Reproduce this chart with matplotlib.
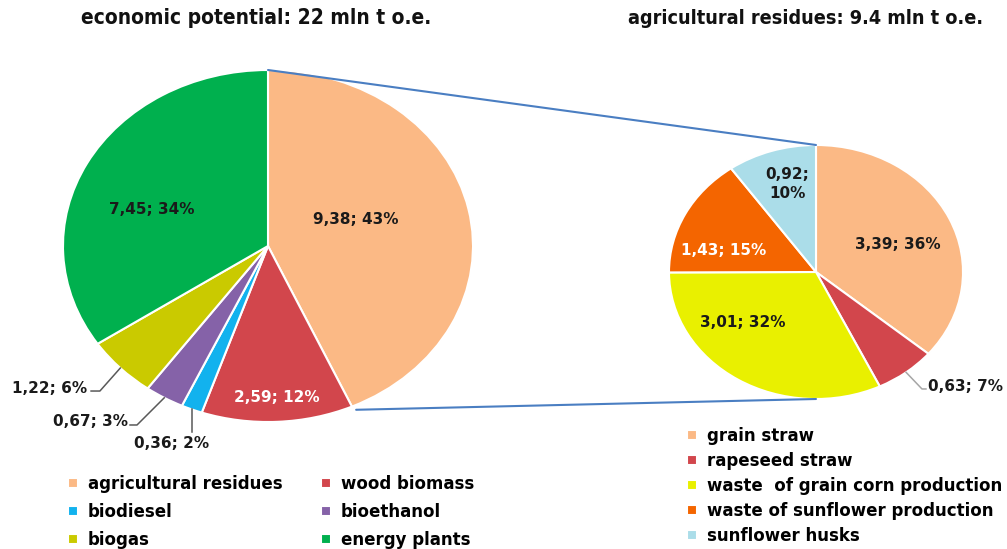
import numpy as np
import matplotlib
matplotlib.use("Agg")
import matplotlib.pyplot as plt
from matplotlib.patches import ConnectionPatch

# economic potential, mln t o.e.
main_names = ['agricultural residues', 'wood biomass', 'biodiesel', 'bioethanol', 'biogas', 'energy plants']
main_values = [9.38, 2.59, 0.36, 0.67, 1.22, 7.45]
main_pcts = [43, 12, 2, 3, 6, 34]
main_colors = ['#FBB985', '#D2464C', '#12B2EE', '#8562A8', '#CACA00', '#00B04E']

# agricultural residues, mln t o.e.
agro_names = ['grain straw', 'rapeseed straw', 'waste  of grain corn production',
              'waste of sunflower production', 'sunflower husks']
agro_values = [3.39, 0.63, 3.01, 1.43, 0.92]
agro_pcts = [36, 7, 32, 15, 10]
agro_colors = ['#FBB985', '#D2464C', '#E9F000', '#F46500', '#ABDDE9']

W, H = 1007, 549
fig = plt.figure(figsize=(W / 100, H / 100), dpi=100)


def pie_axes(cx, cy, rx, ry):
    return fig.add_axes([(cx - rx) / W, (H - cy - ry) / H, 2 * rx / W, 2 * ry / H])


def fmt(v, p):
    return ('%.2f' % v).replace('.', ',') + '; %d%%' % p


def mid_point(values, i):
    tot = sum(values)
    c = sum(values[:i]) + values[i] / 2
    a = np.deg2rad(90 - 360 * c / tot)
    return np.cos(a), np.sin(a)


def draw_pie(ax, values, colors):
    w, _ = ax.pie(values, colors=colors, startangle=90, counterclock=False, radius=1,
                  wedgeprops=dict(edgecolor='white', linewidth=1.5))
    ax.set_aspect('auto')
    ax.set_xlim(-1, 1)
    ax.set_ylim(-1, 1)
    ax.axis('off')
    return w


ax1 = pie_axes(268, 246, 205, 176)
w1 = draw_pie(ax1, main_values, main_colors)
ax2 = pie_axes(816, 272, 147, 127)
w2 = draw_pie(ax2, agro_values, agro_colors)

lab = dict(fontsize=11, fontweight='bold', clip_on=False)

# labels inside the big slices
ax1.text(0.43, 0.148, fmt(main_values[0], main_pcts[0]), ha='center', va='center', color='#1a1a1a', **lab)
ax1.text(0.044, -0.858, fmt(main_values[1], main_pcts[1]), ha='center', va='center', color='white', **lab)
ax1.text(-0.566, 0.205, fmt(main_values[5], main_pcts[5]), ha='center', va='center', color='#1a1a1a', **lab)

# small slices with leader lines
lead = dict(color='#595959', lw=1.1, clip_on=False)
x, y = mid_point(main_values, 4)
ax1.plot([x, -0.82, -0.863], [y, -0.824, -0.824], **lead)
ax1.text(-0.88, -0.81, fmt(main_values[4], main_pcts[4]), ha='right', va='center', color='#1a1a1a', **lab)
x, y = mid_point(main_values, 3)
ax1.plot([x, -0.639, -0.673], [y, -1.017, -1.017], **lead)
ax1.text(-0.685, -1.0, fmt(main_values[3], main_pcts[3]), ha='right', va='center', color='#1a1a1a', **lab)
x, y = mid_point(main_values, 2)
ax1.plot([x, x], [y, -1.057], **lead)
ax1.text(-0.468, -1.12, fmt(main_values[2], main_pcts[2]), ha='center', va='center', color='#1a1a1a', **lab)

ax2.text(0.558, 0.22, fmt(agro_values[0], agro_pcts[0]), ha='center', va='center', color='#1a1a1a', **lab)
ax2.text(-0.497, -0.394, fmt(agro_values[2], agro_pcts[2]), ha='center', va='center', color='#1a1a1a', **lab)
ax2.text(-0.626, 0.173, fmt(agro_values[3], agro_pcts[3]), ha='center', va='center', color='white', **lab)
ax2.text(-0.197, 0.693, fmt(agro_values[4], agro_pcts[4]).replace('; ', ';\n'), ha='center', va='center',
         color='#1a1a1a', linespacing=1.3, **lab)
x, y = mid_point(agro_values, 1)
ax2.plot([x, 0.721, 0.748], [y, -0.921, -0.921], color='#A6A6A6', lw=1.1, clip_on=False)
ax2.text(0.76, -0.905, fmt(agro_values[1], agro_pcts[1]), ha='left', va='center', color='#1a1a1a', **lab)

# zoom lines between the pies
end = np.deg2rad(90 - 360 * main_values[0] / sum(main_values))
for pa, pb in [((0, 1), (0, 1)), ((np.cos(end) * 1.05, np.sin(end) * 1.02), (0, -1))]:
    con = ConnectionPatch(xyA=pa, coordsA=ax1.transData, xyB=pb, coordsB=ax2.transData,
                          color='#4A7EC2', lw=1.5)
    fig.add_artist(con)

# titles
fig.text(256 / W, 1 - 18 / H, 'economic potential: 22 mln t o.e.', ha='center', va='center',
         fontsize=15, fontweight='bold', fontstretch='condensed', color='#111111')
fig.text(628 / W, 1 - 18 / H, 'agricultural residues: 9.4 mln t o.e.', ha='left', va='center',
         fontsize=14.2, fontweight='bold', fontstretch='condensed', color='#111111')

# legends
leg = dict(frameon=False, fontsize=12, handlelength=0.6, handleheight=0.6, handletextpad=0.6,
           labelspacing=0.6, borderpad=0, borderaxespad=0)
for idx, xa in [([0, 2, 4], 68), ([1, 3, 5], 321)]:
    L = fig.legend([w1[i] for i in idx], [main_names[i] for i in idx], loc='upper left',
                   bbox_to_anchor=(xa / W, 1 - 475 / H), **leg)
    for t in L.get_texts():
        t.set_fontweight('bold')
leg['labelspacing'] = 0.42
L = fig.legend(w2, agro_names, loc='upper left', bbox_to_anchor=(687 / W, 1 - 427 / H), **leg)
for t in L.get_texts():
    t.set_fontweight('bold')

fig.savefig('out.png', dpi=100)
